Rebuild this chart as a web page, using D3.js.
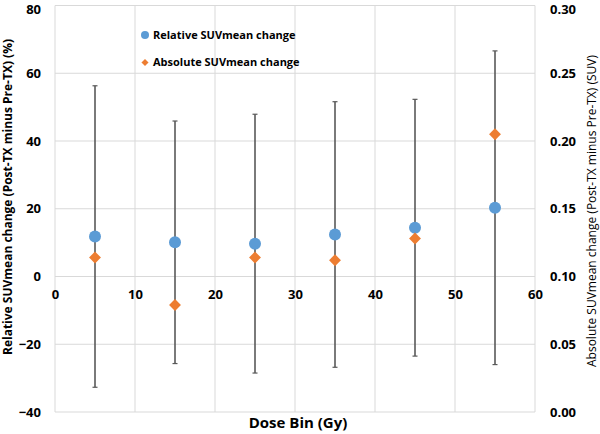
<!DOCTYPE html>
<html>
<head>
<meta charset="utf-8">
<script src="https://cdn.jsdelivr.net/npm/d3@7"></script>
<style>
  body { margin: 0; background: #fff; }
  text { font-family: "Open Sans", "DejaVu Sans", sans-serif; fill: #000; }
</style>
</head>
<body>
<div id="chart"></div>
<script>
// dose bins (Gy)
var doseBins = [5, 15, 25, 35, 45, 55];
// relative SUVmean change (%), left axis
var relChange = [11.8, 10.1, 9.7, 12.4, 14.4, 20.3];
// error bar half widths on relative change (%)
var relError = [44.5, 35.8, 38.2, 39.2, 37.9, 46.3];
// absolute SUVmean change (SUV), right axis
var absChange = [0.114, 0.079, 0.114, 0.112, 0.128, 0.205];

var xTicks = [0, 10, 20, 30, 40, 50, 60];
var yTicks = [-40, -20, 0, 20, 40, 60, 80];
var y2Ticks = [0, 0.05, 0.10, 0.15, 0.20, 0.25, 0.30];

var legendLabels = ['Relative SUVmean change', 'Absolute SUVmean change'];

var margin = { top: 5.5, right: 65, bottom: 22, left: 55 },
    totalW = 600, totalH = 434,
    width = totalW - margin.left - margin.right,
    height = totalH - margin.top - margin.bottom;

var color = { rel: '#5B9BD5', abs: '#ED7D31', grid: '#d9d9d9', bar: '#595959' };

var svg = d3.select('#chart').append('svg')
    .attr('width', totalW)
    .attr('height', totalH);

var g = svg.append('g')
    .attr('transform', 'translate(' + margin.left + ',' + margin.top + ')');

var x = d3.scaleLinear().domain([0, 60]).range([0, width]);
var y = d3.scaleLinear().domain([-40, 80]).range([height, 0]);
var y2 = d3.scaleLinear().domain([0, 0.30]).range([height, 0]);

// gridlines
g.selectAll('.vgrid').data(xTicks).enter().append('line')
    .attr('x1', d => x(d)).attr('x2', d => x(d))
    .attr('y1', 0).attr('y2', height)
    .attr('stroke', color.grid).attr('stroke-width', 1);
g.selectAll('.hgrid').data(yTicks).enter().append('line')
    .attr('x1', 0).attr('x2', width)
    .attr('y1', d => y(d)).attr('y2', d => y(d))
    .attr('stroke', color.grid).attr('stroke-width', 1);

// left axis labels (top one nudged so it stays inside the page)
var yAxis = d3.axisLeft(y).tickValues(yTicks).tickSize(0).tickPadding(14);
var ya = g.append('g').call(yAxis);
ya.select('.domain').remove();
ya.selectAll('text').style('font-size', '13px').style('font-weight', 'bold')
    .attr('dy', d => d === 80 ? '0.65em' : '0.32em');

// right axis labels
var y2Axis = d3.axisRight(y2).tickValues(y2Ticks).tickSize(0).tickPadding(15)
    .tickFormat(d3.format('.2f'));
var y2a = g.append('g').attr('transform', 'translate(' + width + ',0)').call(y2Axis);
y2a.select('.domain').remove();
y2a.selectAll('text').style('font-size', '13px').style('font-weight', 'bold')
    .attr('dy', d => d === 0.30 ? '0.65em' : '0.32em');

// x axis labels sit at y=0
var xAxis = d3.axisBottom(x).tickValues(xTicks).tickSize(0).tickPadding(13);
var xa = g.append('g').attr('transform', 'translate(0,' + y(0) + ')').call(xAxis);
xa.select('.domain').remove();
xa.selectAll('text').style('font-size', '13px').style('font-weight', 'bold');

// error bars
var data = doseBins.map((d, i) => ({ x: d, rel: relChange[i], err: relError[i], abs: absChange[i] }));
var eb = g.selectAll('.eb').data(data).enter().append('g');
eb.append('line')
    .attr('x1', d => x(d.x)).attr('x2', d => x(d.x))
    .attr('y1', d => y(d.rel + d.err)).attr('y2', d => y(d.rel - d.err))
    .attr('stroke', color.bar).attr('stroke-width', 1.6);
eb.append('line')
    .attr('x1', d => x(d.x) - 2.5).attr('x2', d => x(d.x) + 2.5)
    .attr('y1', d => y(d.rel + d.err)).attr('y2', d => y(d.rel + d.err))
    .attr('stroke', color.bar).attr('stroke-width', 1.2);
eb.append('line')
    .attr('x1', d => x(d.x) - 2.5).attr('x2', d => x(d.x) + 2.5)
    .attr('y1', d => y(d.rel - d.err)).attr('y2', d => y(d.rel - d.err))
    .attr('stroke', color.bar).attr('stroke-width', 1.2);

// relative markers
g.selectAll('.rel').data(data).enter().append('circle')
    .attr('cx', d => x(d.x)).attr('cy', d => y(d.rel))
    .attr('r', 6).attr('fill', color.rel);

// absolute markers
var diamond = d3.symbol().type(d3.symbolDiamond2).size(90);
g.selectAll('.abs').data(data).enter().append('path')
    .attr('d', diamond)
    .attr('transform', d => 'translate(' + x(d.x) + ',' + y2(d.abs) + ')')
    .attr('fill', color.abs);

// legend
var leg = svg.append('g').attr('transform', 'translate(145,35)');
leg.append('circle').attr('cx', 0).attr('cy', 0).attr('r', 4).attr('fill', color.rel);
leg.append('path').attr('d', d3.symbol().type(d3.symbolDiamond2).size(32))
    .attr('transform', 'translate(0,27.5)').attr('fill', color.abs);
leg.selectAll('.lt').data(legendLabels).enter().append('text')
    .attr('x', 8).attr('y', (d, i) => i * 27.5)
    .attr('dy', '0.35em')
    .style('font-size', '11px').style('font-weight', 'bold')
    .text(d => d);

// axis titles
svg.append('text')
    .attr('transform', 'translate(298,423)')
    .attr('text-anchor', 'middle').attr('dy', '0.35em')
    .style('font-size', '15px').style('font-weight', 'bold')
    .text('Dose Bin (Gy)');

svg.append('text')
    .attr('transform', 'translate(8,197) rotate(-90)')
    .attr('text-anchor', 'middle').attr('dy', '0.35em')
    .style('font-size', '12px').style('font-weight', 'bold')
    .text('Relative SUVmean change (Post-TX minus Pre-TX) (%)');

svg.append('text')
    .attr('transform', 'translate(592,211) rotate(-90)')
    .attr('text-anchor', 'middle').attr('dy', '0.35em')
    .style('font-size', '12px')
    .text('Absolute SUVmean change (Post-TX minus Pre-TX) (SUV)');
</script>
</body>
</html>
